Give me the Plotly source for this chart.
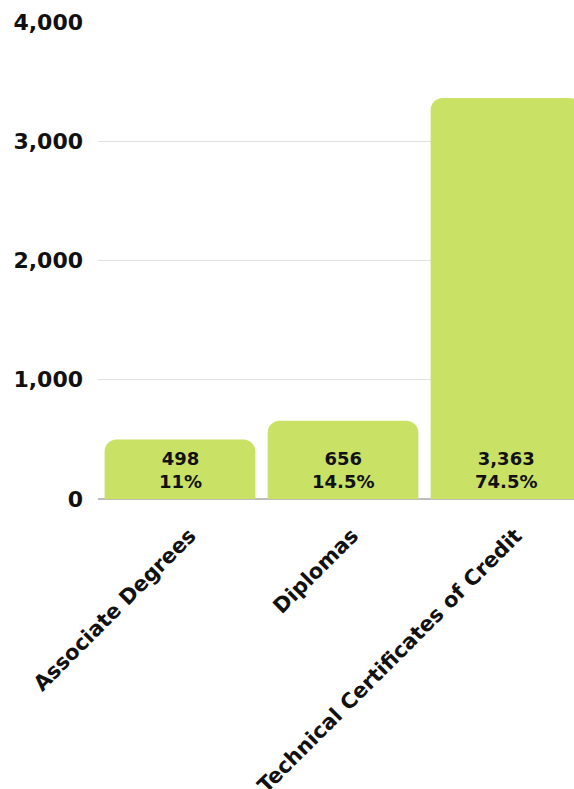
import plotly.graph_objects as go

categories = ["Associate Degrees", "Diplomas", "Technical Certificates of Credit"]
counts = [498, 656, 3363]
percents = ["11%", "14.5%", "74.5%"]
y_ticks = [0, 1000, 2000, 3000, 4000]

labels = [f"{c:,}<br>{p}" for c, p in zip(counts, percents)]
FONT = "DejaVu Sans"

fig = go.Figure(go.Bar(
    x=categories,
    y=counts,
    marker=dict(color="#c9e265", line=dict(width=0), cornerradius=12),
    cliponaxis=True,
    hoverinfo="x+y",
))

for cat, lab in zip(categories, labels):
    fig.add_annotation(
        x=cat, y=0, xref="x", yref="y",
        text=lab, showarrow=False,
        yanchor="bottom", yshift=5,
        font=dict(family=FONT, size=18, color="#111111", weight="bold"),
    )
    # category label, rotated like the reference's axis labels
    fig.add_annotation(
        x=cat, y=0, xref="x", yref="y",
        text=cat, showarrow=False, textangle=-45,
        xanchor="right", yanchor="top", xshift=23, yshift=-22,
        font=dict(family=FONT, size=21, color="#111111", weight="bold"),
    )

fig.update_layout(
    width=574, height=789,
    margin=dict(l=98, r=0, t=22, b=290, autoexpand=False),
    paper_bgcolor="white", plot_bgcolor="white",
    bargap=0.075,
    showlegend=False,
    font=dict(family=FONT, color="#111111"),
    xaxis=dict(
        range=[-0.503, 2.417],
        showticklabels=False,
        showgrid=False,
        showline=False,
        ticks="",
        automargin=False,
    ),
    yaxis=dict(
        range=[0, 4000],
        tickvals=y_ticks,
        ticktext=[f"{v:,}" for v in y_ticks],
        tickfont=dict(family=FONT, size=22, color="#111111", weight="bold"),
        showgrid=True,
        gridcolor="#e0e0e0",
        gridwidth=1,
        zeroline=True,
        zerolinecolor="#bdbdbd",
        zerolinewidth=2,
        ticks="",
        ticklabelstandoff=14,
        automargin=False,
    ),
)

fig.write_html(
    "out.html",
    config={"displayModeBar": False},
    post_script="document.body.style.margin='0';document.body.style.overflow='hidden';",
)
